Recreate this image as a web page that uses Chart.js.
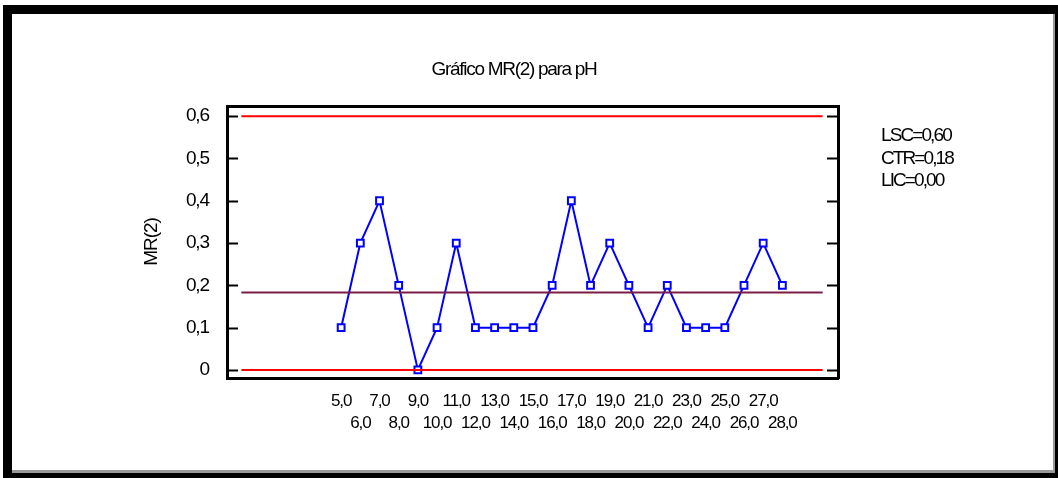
<!DOCTYPE html>
<html>
<head>
<meta charset="utf-8">
<script src="https://cdn.jsdelivr.net/npm/chart.js@4/dist/chart.umd.min.js"></script>
<style>
    body { margin: 0; background: #fff; }
    #frame { position: absolute; left: 3px; top: 5px; width: 1055px; height: 473px; background: #000; }
    #inner { position: absolute; left: 9px; top: 9px; width: 1041px; height: 456px; background: #fff;
             border-right: 2px solid #9a9a9a; border-bottom: 3px solid #9a9a9a; }
    #mrChart { position: absolute; left: 0; top: 0; }
</style>
</head>
<body>
<div id="frame"><div id="inner"></div></div>
<canvas id="mrChart" width="1058" height="478"></canvas>
<script>
// Sample numbers (x axis) and moving ranges
const samples = [5, 6, 7, 8, 9, 10, 11, 12, 13, 14, 15, 16, 17, 18, 19, 20, 21, 22, 23, 24, 25, 26, 27, 28];
const mrValues = [0.1, 0.3, 0.4, 0.2, 0.0, 0.1, 0.3, 0.1, 0.1, 0.1, 0.1, 0.2, 0.4, 0.2, 0.3, 0.2, 0.1, 0.2, 0.1, 0.1, 0.1, 0.2, 0.3, 0.2];

// Control limits
const limitNames = ['LSC', 'CTR', 'LIC'];
const limitValues = [0.60, 0.183, 0.00];
const limitSpan = [-0.2, 30.1];

const yTicks = [0, 0.1, 0.2, 0.3, 0.4, 0.5, 0.6];

const chartTitle = 'Gráfico MR(2) para pH';
const yTitle = 'MR(2)';

const FONT = "'Liberation Sans', Arial, sans-serif";

function fmt(v, digits) {
    return v.toFixed(digits).replace('.', ',');
}

function limitLine(value, color) {
    return {
        data: limitSpan.map(x => ({ x: x, y: value })),
        borderColor: color,
        borderWidth: 2,
        pointRadius: 0,
        fill: false
    };
}

// Draws title, inner tick marks and the limit summary
const extras = {
    id: 'extras',
    beforeDraw(chart) {
        // the original uses very tight (condensed) lettering
        chart.ctx.letterSpacing = '-1.1px';
    },
    afterDraw(chart) {
        const ctx = chart.ctx;
        const area = chart.chartArea;
        const y = chart.scales.y;
        ctx.save();
        ctx.strokeStyle = '#000';
        ctx.lineWidth = 2;
        yTicks.forEach(t => {
            const py = Math.round(y.getPixelForValue(t)) + 0.5;
            ctx.beginPath();
            ctx.moveTo(area.left, py);
            ctx.lineTo(area.left + 11, py);
            ctx.moveTo(area.right - 11, py);
            ctx.lineTo(area.right, py);
            ctx.stroke();
        });

        ctx.fillStyle = '#000';
        ctx.textBaseline = 'middle';
        ctx.font = '19px ' + FONT;
        ctx.letterSpacing = '-1.3px';
        ctx.textAlign = 'center';
        ctx.fillText(chartTitle, 514, 70);

        ctx.letterSpacing = '-1.9px';
        ctx.textAlign = 'left';
        limitNames.forEach((name, i) => {
            ctx.fillText(name + '=' + fmt(limitValues[i], 2), 881, 136 + i * 22.5);
        });
        ctx.restore();
    }
};

const ctx = document.getElementById('mrChart').getContext('2d');
new Chart(ctx, {
    type: 'line',
    data: {
        datasets: [
            limitLine(limitValues[0], '#ff0000'),
            limitLine(limitValues[1], '#7a1c48'),
            limitLine(limitValues[2], '#ff0000'),
            {
                data: samples.map((s, i) => ({ x: s, y: mrValues[i] })),
                borderColor: '#0000ff',
                borderWidth: 2,
                pointStyle: 'rect',
                pointRadius: 4.8,
                pointBorderWidth: 2,
                pointBorderColor: '#0000ff',
                pointBackgroundColor: '#ffffff',
                fill: false
            }
        ]
    },
    options: {
        responsive: false,
        animation: false,
        layout: { padding: { left: 136, top: 106, right: 0, bottom: 0 } },
        plugins: {
            legend: { display: false },
            tooltip: { enabled: false }
        },
        scales: {
            x: {
                type: 'linear',
                min: -0.95,
                max: 30.9,
                afterBuildTicks: scale => { scale.ticks = samples.map(v => ({ value: v })); },
                afterFit: scale => { scale.height = 100; },
                grid: { display: false, drawTicks: false },
                border: { color: '#000', width: 3 },
                ticks: {
                    autoSkip: false,
                    maxRotation: 0,
                    padding: 12,
                    color: '#000',
                    font: { family: FONT, size: 17, lineHeight: 1.3 },
                    callback: v => (v % 2 === 1 ? [fmt(v, 1), ''] : ['', fmt(v, 1)])
                }
            },
            x2: {
                type: 'linear',
                position: 'top',
                min: -0.95,
                max: 30.9,
                afterFit: scale => { scale.height = 0; },
                grid: { display: false, drawTicks: false },
                border: { color: '#000', width: 3 },
                ticks: { display: false }
            },
            y: {
                min: -0.019,
                max: 0.624,
                afterBuildTicks: scale => { scale.ticks = yTicks.map(v => ({ value: v })); },
                afterFit: scale => { scale.width = 91; },
                grid: { display: false, drawTicks: false },
                border: { color: '#000', width: 3 },
                title: {
                    display: true,
                    text: yTitle,
                    color: '#000',
                    padding: 4,
                    font: { family: FONT, size: 19 }
                },
                ticks: {
                    padding: 18,
                    color: '#000',
                    font: { family: FONT, size: 19 },
                    callback: v => (v === 0 ? '0' : fmt(v, 1))
                }
            },
            y2: {
                position: 'right',
                min: -0.019,
                max: 0.624,
                afterFit: scale => { scale.width = 220; },
                grid: { display: false, drawTicks: false },
                border: { color: '#000', width: 3 },
                ticks: { display: false }
            }
        }
    },
    plugins: [extras]
});
</script>
</body>
</html>
